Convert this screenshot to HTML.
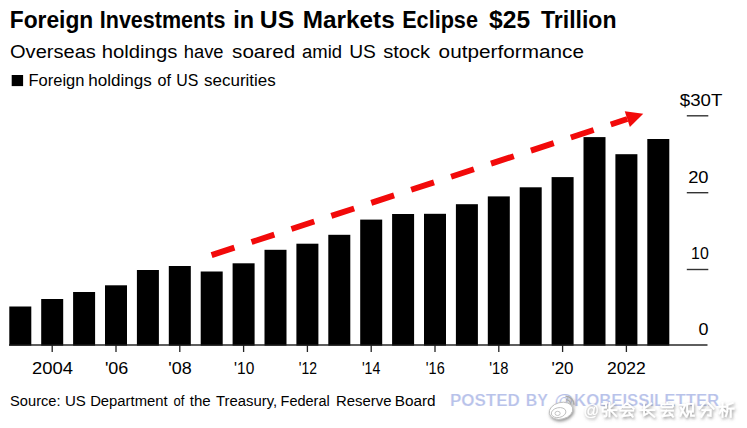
<!DOCTYPE html>
<html><head><meta charset="utf-8"><style>
html,body{margin:0;padding:0;background:#fff;}
svg{display:block;}
text{font-family:"Liberation Sans", sans-serif;}
</style></head><body>
<svg width="747" height="428" viewBox="0 0 747 428">
<rect x="11.7" y="75" width="11.4" height="11.1" fill="#000"/>
<rect x="9.30" y="306.50" width="22" height="39.10" fill="#000"/>
<rect x="41.20" y="299.00" width="22" height="46.60" fill="#000"/>
<rect x="73.10" y="292.00" width="22" height="53.60" fill="#000"/>
<rect x="105.00" y="285.30" width="22" height="60.30" fill="#000"/>
<rect x="136.90" y="270.00" width="22" height="75.60" fill="#000"/>
<rect x="168.80" y="266.00" width="22" height="79.60" fill="#000"/>
<rect x="200.70" y="271.50" width="22" height="74.10" fill="#000"/>
<rect x="232.60" y="263.30" width="22" height="82.30" fill="#000"/>
<rect x="264.50" y="249.80" width="22" height="95.80" fill="#000"/>
<rect x="296.40" y="243.70" width="22" height="101.90" fill="#000"/>
<rect x="328.30" y="234.80" width="22" height="110.80" fill="#000"/>
<rect x="360.20" y="219.60" width="22" height="126.00" fill="#000"/>
<rect x="392.10" y="214.00" width="22" height="131.60" fill="#000"/>
<rect x="424.00" y="213.80" width="22" height="131.80" fill="#000"/>
<rect x="455.90" y="204.20" width="22" height="141.40" fill="#000"/>
<rect x="487.80" y="196.40" width="22" height="149.20" fill="#000"/>
<rect x="519.70" y="187.30" width="22" height="158.30" fill="#000"/>
<rect x="551.60" y="177.10" width="22" height="168.50" fill="#000"/>
<rect x="583.50" y="137.10" width="22" height="208.50" fill="#000"/>
<rect x="615.40" y="154.20" width="22" height="191.40" fill="#000"/>
<rect x="647.30" y="139.00" width="22" height="206.60" fill="#000"/>
<rect x="51.55" y="345" width="1.3" height="7" fill="#222"/>
<rect x="115.35" y="345" width="1.3" height="7" fill="#222"/>
<rect x="179.15" y="345" width="1.3" height="7" fill="#222"/>
<rect x="242.95" y="345" width="1.3" height="7" fill="#222"/>
<rect x="306.75" y="345" width="1.3" height="7" fill="#222"/>
<rect x="370.55" y="345" width="1.3" height="7" fill="#222"/>
<rect x="434.35" y="345" width="1.3" height="7" fill="#222"/>
<rect x="498.15" y="345" width="1.3" height="7" fill="#222"/>
<rect x="561.95" y="345" width="1.3" height="7" fill="#222"/>
<rect x="625.75" y="345" width="1.3" height="7" fill="#222"/>
<rect x="686.8" y="115.10" width="21.5" height="1.4" fill="#333"/>
<rect x="686.8" y="192.00" width="21.5" height="1.4" fill="#333"/>
<rect x="686.8" y="268.80" width="21.5" height="1.4" fill="#333"/>
<rect x="9" y="344.3" width="698.5" height="1.4" fill="#1a1a1a"/>
<path d="M211.6 255.12 L627.3 119.05" stroke="#f20a0a" stroke-width="5.9" stroke-dasharray="24 18" fill="none"/><polygon points="624.73,111.16 643.27,113.84 629.87,126.94" fill="#f20a0a"/>
<text x="9.72" y="28.20" font-size="23.3" font-weight="bold" fill="#000" textLength="83.58" lengthAdjust="spacingAndGlyphs">Foreign</text>
<text x="99.78" y="28.20" font-size="23.3" font-weight="bold" fill="#000" textLength="125.61" lengthAdjust="spacingAndGlyphs">Investments</text>
<text x="233.19" y="28.20" font-size="23.3" font-weight="bold" fill="#000" textLength="20.85" lengthAdjust="spacingAndGlyphs">in</text>
<text x="259.74" y="28.20" font-size="23.3" font-weight="bold" fill="#000" textLength="34.44" lengthAdjust="spacingAndGlyphs">US</text>
<text x="302.86" y="28.20" font-size="23.3" font-weight="bold" fill="#000" textLength="91.84" lengthAdjust="spacingAndGlyphs">Markets</text>
<text x="402.17" y="28.20" font-size="23.3" font-weight="bold" fill="#000" textLength="75.79" lengthAdjust="spacingAndGlyphs">Eclipse</text>
<text x="489.10" y="28.20" font-size="23.3" font-weight="bold" fill="#000" textLength="41.05" lengthAdjust="spacingAndGlyphs">$25</text>
<text x="541.00" y="28.20" font-size="23.3" font-weight="bold" fill="#000" textLength="75.52" lengthAdjust="spacingAndGlyphs">Trillion</text>
<text x="10.00" y="58.10" font-size="19.2" font-weight="normal" fill="#000" textLength="85.82" lengthAdjust="spacingAndGlyphs">Overseas</text>
<text x="101.74" y="58.10" font-size="19.2" font-weight="normal" fill="#000" textLength="75.59" lengthAdjust="spacingAndGlyphs">holdings</text>
<text x="183.74" y="58.10" font-size="19.2" font-weight="normal" fill="#000" textLength="39.80" lengthAdjust="spacingAndGlyphs">have</text>
<text x="232.10" y="58.10" font-size="19.2" font-weight="normal" fill="#000" textLength="63.02" lengthAdjust="spacingAndGlyphs">soared</text>
<text x="302.00" y="58.10" font-size="19.2" font-weight="normal" fill="#000" textLength="40.05" lengthAdjust="spacingAndGlyphs">amid</text>
<text x="349.20" y="58.10" font-size="19.2" font-weight="normal" fill="#000" textLength="26.70" lengthAdjust="spacingAndGlyphs">US</text>
<text x="383.20" y="58.10" font-size="19.2" font-weight="normal" fill="#000" textLength="46.97" lengthAdjust="spacingAndGlyphs">stock</text>
<text x="438.60" y="58.10" font-size="19.2" font-weight="normal" fill="#000" textLength="145.33" lengthAdjust="spacingAndGlyphs">outperformance</text>
<text x="28.50" y="86.00" font-size="16.5" font-weight="normal" fill="#000" textLength="55.98" lengthAdjust="spacingAndGlyphs">Foreign</text>
<text x="88.17" y="86.00" font-size="16.5" font-weight="normal" fill="#000" textLength="63.59" lengthAdjust="spacingAndGlyphs">holdings</text>
<text x="157.60" y="86.00" font-size="16.5" font-weight="normal" fill="#000" textLength="13.49" lengthAdjust="spacingAndGlyphs">of</text>
<text x="176.24" y="86.00" font-size="16.5" font-weight="normal" fill="#000" textLength="22.07" lengthAdjust="spacingAndGlyphs">US</text>
<text x="204.00" y="86.00" font-size="16.5" font-weight="normal" fill="#000" textLength="71.76" lengthAdjust="spacingAndGlyphs">securities</text>
<text x="10.10" y="405.80" font-size="15.5" font-weight="normal" fill="#000" textLength="50.43" lengthAdjust="spacingAndGlyphs">Source:</text>
<text x="64.93" y="405.80" font-size="15.5" font-weight="normal" fill="#000" textLength="20.90" lengthAdjust="spacingAndGlyphs">US</text>
<text x="90.14" y="405.80" font-size="15.5" font-weight="normal" fill="#000" textLength="77.49" lengthAdjust="spacingAndGlyphs">Department</text>
<text x="173.60" y="405.80" font-size="15.5" font-weight="normal" fill="#000" textLength="10.91" lengthAdjust="spacingAndGlyphs">of</text>
<text x="189.80" y="405.80" font-size="15.5" font-weight="normal" fill="#000" textLength="20.90" lengthAdjust="spacingAndGlyphs">the</text>
<text x="216.10" y="405.80" font-size="15.5" font-weight="normal" fill="#000" textLength="61.05" lengthAdjust="spacingAndGlyphs">Treasury,</text>
<text x="280.56" y="405.80" font-size="15.5" font-weight="normal" fill="#000" textLength="49.15" lengthAdjust="spacingAndGlyphs">Federal</text>
<text x="336.04" y="405.80" font-size="15.5" font-weight="normal" fill="#000" textLength="55.46" lengthAdjust="spacingAndGlyphs">Reserve</text>
<text x="394.71" y="405.80" font-size="15.5" font-weight="normal" fill="#000" textLength="40.90" lengthAdjust="spacingAndGlyphs">Board</text>
<text x="679.80" y="105.60" font-size="17" font-weight="normal" fill="#000" textLength="42.52" lengthAdjust="spacingAndGlyphs">$30T</text>
<text x="688.20" y="182.70" font-size="17" font-weight="normal" fill="#000" textLength="20.39" lengthAdjust="spacingAndGlyphs">20</text>
<text x="691.07" y="258.70" font-size="17" font-weight="normal" fill="#000" textLength="17.66" lengthAdjust="spacingAndGlyphs">10</text>
<text x="698.40" y="334.80" font-size="17" font-weight="normal" fill="#000" textLength="9.98" lengthAdjust="spacingAndGlyphs">0</text>
<text x="32.00" y="373.50" font-size="17" font-weight="normal" fill="#000" textLength="40.99" lengthAdjust="spacingAndGlyphs">2004</text>
<text x="104.90" y="373.50" font-size="17" font-weight="normal" fill="#000" textLength="23.38" lengthAdjust="spacingAndGlyphs">'06</text>
<text x="168.30" y="373.50" font-size="17" font-weight="normal" fill="#000" textLength="23.38" lengthAdjust="spacingAndGlyphs">'08</text>
<text x="234.10" y="373.50" font-size="17" font-weight="normal" fill="#000" textLength="20.21" lengthAdjust="spacingAndGlyphs">'10</text>
<text x="298.80" y="373.50" font-size="17" font-weight="normal" fill="#000" textLength="18.17" lengthAdjust="spacingAndGlyphs">'12</text>
<text x="361.90" y="373.50" font-size="17" font-weight="normal" fill="#000" textLength="18.48" lengthAdjust="spacingAndGlyphs">'14</text>
<text x="425.80" y="373.50" font-size="17" font-weight="normal" fill="#000" textLength="18.89" lengthAdjust="spacingAndGlyphs">'16</text>
<text x="489.30" y="373.50" font-size="17" font-weight="normal" fill="#000" textLength="19.19" lengthAdjust="spacingAndGlyphs">'18</text>
<text x="551.40" y="373.50" font-size="17" font-weight="normal" fill="#000" textLength="22.15" lengthAdjust="spacingAndGlyphs">'20</text>
<text x="606.90" y="373.50" font-size="17" font-weight="normal" fill="#000" textLength="38.97" lengthAdjust="spacingAndGlyphs">2022</text>
<text x="450.04" y="406.00" font-size="16" font-weight="bold" fill="#b8c2ea" stroke="#fff" stroke-width="0.2" textLength="69.75" lengthAdjust="spacingAndGlyphs">POSTED</text>
<text x="525.70" y="406.00" font-size="16" font-weight="bold" fill="#b8c2ea" stroke="#fff" stroke-width="0.2" textLength="22.17" lengthAdjust="spacingAndGlyphs">BY</text>
<text x="554.60" y="406.00" font-size="16" font-weight="bold" fill="#b8c2ea" stroke="#fff" stroke-width="0.2" textLength="18.83" lengthAdjust="spacingAndGlyphs">@</text>
<text x="574.05" y="406.00" font-size="16" font-weight="bold" fill="#b8c2ea" stroke="#fff" stroke-width="0.2" textLength="145.18" lengthAdjust="spacingAndGlyphs">KOBEISSILETTER</text>
<defs><filter id="sh" x="-20%" y="-20%" width="150%" height="160%"><feDropShadow dx="1" dy="1.6" stdDeviation="1.4" flood-color="#666" flood-opacity="0.7"/></filter></defs>
<g filter="url(#sh)">
<g fill="none" stroke="#fff" stroke-width="1.9" stroke-linecap="square">
<path transform="translate(601.2 402) scale(0.97 0.95)" d="M1 2H5V6H1.5V10H5.5V14Q5.5 15.5 3.5 15 M8.5 1V15 M13.5 2L9 6 M7 8.5H15.5 M9.5 8.5L15.5 15"/>
<path transform="translate(619.1 402) scale(0.97 0.95)" d="M8 1L1 7 M8 1L15 7 M5 5.5H11 M1.5 9H14.5 M7.5 9.5L3.5 15 M3.5 15L13 13.5 M10.5 11.5L14 15.5"/>
<path transform="translate(639.2 402) scale(0.97 0.95)" d="M5 1V14L8.5 12 M12.5 1.5L6 6 M1 8.5H15.5 M7.5 8.5L15.5 15.5"/>
<path transform="translate(659.4 402) scale(0.97 0.95)" d="M8 0.5V2 M2 4.5V2.5H14V4.5 M3 5.5H13 M2 9H14 M7.5 9L3.5 15 M3.5 15L13 13.5 M10.5 11.5L14 15.5"/>
<path transform="translate(678.4 402) scale(0.97 0.95)" d="M1 3H7 M7 3L2 14.5 M2.5 6L7.5 14.5 M9 2H15V10H9Z M11 10L8.5 15.5 M13 10V14.5H16"/>
<path transform="translate(698.5 402) scale(0.97 0.95)" d="M6 1L1 7 M10 1L15.5 7 M4 8.5H12.5V14.5L10 14 M7.5 8.5L3 15.5"/>
<path transform="translate(718.6 402) scale(0.97 0.95)" d="M1 5H7 M4 1V15.5 M4 6L1 12 M4 7L7 10 M14.5 1L9 3 M9 3V10L7.5 15 M9 7H15.5 M12.5 7V15.5"/>
</g>
<text x="583.4" y="415.5" font-size="17" fill="#fff" textLength="15.6" lengthAdjust="spacingAndGlyphs">@</text>
<g fill="#fff" stroke="#bdbdbd" stroke-width="0.9"><ellipse cx="561" cy="410.8" rx="12" ry="8.3" transform="rotate(-14 561 410.8)"/><ellipse cx="558.6" cy="412.6" rx="7.4" ry="4.9" transform="rotate(-12 558.6 412.6)"/><ellipse cx="557.6" cy="413.4" rx="2.6" ry="2.1"/><path d="M565.5 396.3 A8.5 8.5 0 0 1 574 404.8" fill="none" stroke="#aaa" stroke-width="1.6"/><path d="M566 399.8 A4.8 4.8 0 0 1 570.8 404.6" fill="none" stroke="#aaa" stroke-width="1.4"/></g>
</g>
</svg>
</body></html>
